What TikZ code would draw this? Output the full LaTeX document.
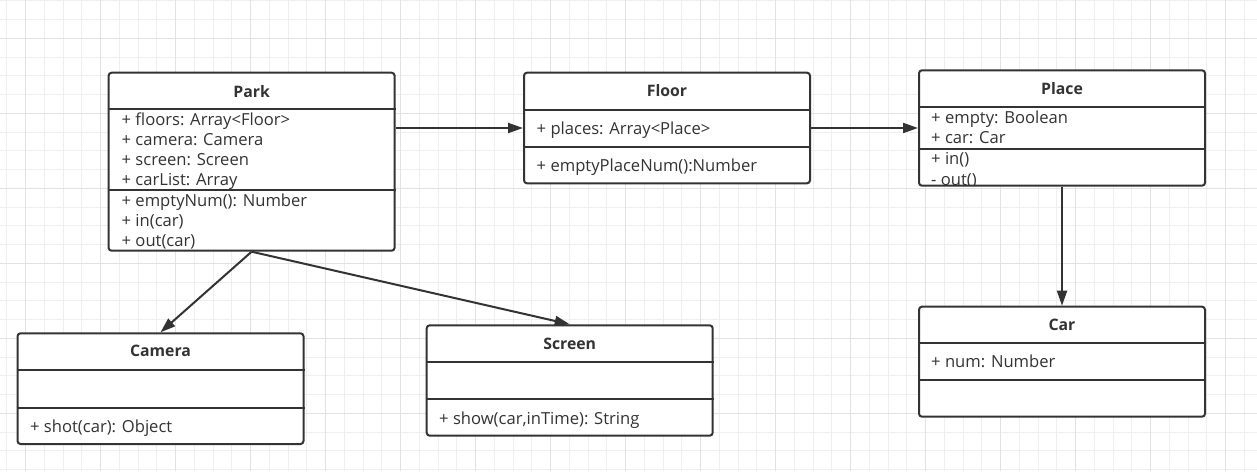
\documentclass[tikz,border=0pt]{standalone}
\usepackage{fontspec}
\setmainfont{Open Sans}
\usetikzlibrary{arrows.meta}
\definecolor{ink}{HTML}{333333}
\definecolor{gridminor}{HTML}{EFEFEF}
\definecolor{gridmajor}{HTML}{E2E2E2}
\tikzset{
  cls/.style={draw=ink, line width=2pt, rounded corners=3pt, fill=white, inner sep=0pt, minimum width=286pt},
  div/.style={draw=ink, line width=2pt},
  member/.style={anchor=base west, inner sep=0pt, text=ink, font=\fontsize{16.6}{18}\selectfont},
  title/.style={anchor=base, inner sep=0pt, text=ink, font=\fontsize{15.8}{18}\selectfont\bfseries},
  link/.style={draw=ink, line width=2pt, -{Triangle[length=15pt,width=10pt]}},
  minorline/.style={draw=gridminor, line width=1pt},
  majorline/.style={draw=gridmajor, line width=1pt}
}
\begin{document}
\begin{tikzpicture}[x=1pt,y=-1pt]
\useasboundingbox (0,0) rectangle (1257,471);
\fill[white] (0,0) rectangle (1257,471);
% grid
\foreach \i in {0,...,66} \draw[minorline] ({6.95+18.75*\i},0) -- ({6.95+18.75*\i},471);
\foreach \i in {0,...,25} \draw[minorline] (0,{0.8+18.75*\i}) -- (1257,{0.8+18.75*\i});
\foreach \i in {0,...,16} \draw[majorline] ({25.7+75*\i},0) -- ({25.7+75*\i},471);
\foreach \i in {0,...,5} \draw[majorline] (0,{38.3+75*\i}) -- (1257,{38.3+75*\i});

% boxes
\node[cls, minimum height=178pt] (park) at (251.6,161.7) {};
\node[cls, minimum height=110.6pt] (floor) at (667,128) {};
\node[cls, minimum height=115.4pt] (place) at (1062,128) {};
\node[cls, minimum height=110.7pt] (camera) at (160.5,388.65) {};
\node[cls, minimum height=110.4pt] (screen) at (569.7,380.5) {};
\node[cls, minimum height=110pt] (car) at (1062,361.7) {};

% Park
\node[title] (park-t) at (251.6,97.3) {Park};
\node[member] (park-a1) at (121.5,125.3) {+ floors: Array<Floor>};
\node[member] (park-a2) at (121.5,145.4) {+ camera: Camera};
\node[member] (park-a3) at (121.5,165.5) {+ screen: Screen};
\node[member] (park-a4) at (121.5,185.6) {+ carList: Array};
\node[member] (park-m1) at (121.5,206.3) {+ emptyNum(): Number};
\node[member] (park-m2) at (121.5,226.5) {+ in(car)};
\node[member] (park-m3) at (121.5,246.7) {+ out(car)};
\draw[div] (park.west |- 0,109) -- (park.east |- 0,109);
\draw[div] (park.west |- 0,190) -- (park.east |- 0,190);

% Floor
\node[title] (floor-t) at (667,96.7) {Floor};
\node[member] (floor-a1) at (536.5,134) {+ places: Array<Place>};
\node[member] (floor-m1) at (536.5,171.7) {+ emptyPlaceNum():Number};
\draw[div] (floor.west |- 0,110) -- (floor.east |- 0,110);
\draw[div] (floor.west |- 0,147.3) -- (floor.east |- 0,147.3);

% Place
\node[title] (place-t) at (1062,94) {Place};
\node[member] (place-a1) at (931,123.3) {+ empty: Boolean};
\node[member] (place-a2) at (931,143.3) {+ car: Car};
\node[member] (place-m1) at (931,164.3) {+ in()};
\begin{scope}
\clip (918,60) rectangle (1206,185);
\node[member] (place-m2) at (931,185) {- out()};
\end{scope}
\draw[div] (place.west |- 0,106.7) -- (place.east |- 0,106.7);
\draw[div] (place.west |- 0,149) -- (place.east |- 0,149);

% Camera
\node[title] (camera-t) at (160.5,356.7) {Camera};
\node[member] (camera-m1) at (30,432.3) {+ shot(car): Object};
\draw[div] (camera.west |- 0,370) -- (camera.east |- 0,370);
\draw[div] (camera.west |- 0,408.3) -- (camera.east |- 0,408.3);

% Screen
\node[title] (screen-t) at (569.7,349) {Screen};
\node[member] (screen-m1) at (439,424.3) {+ show(car,inTime): String};
\draw[div] (screen.west |- 0,361.7) -- (screen.east |- 0,361.7);
\draw[div] (screen.west |- 0,399.3) -- (screen.east |- 0,399.3);

% Car
\node[title] (car-t) at (1062,330) {Car};
\node[member] (car-a1) at (931,367.3) {+ num: Number};
\draw[div] (car.west |- 0,342.7) -- (car.east |- 0,342.7);
\draw[div] (car.west |- 0,380) -- (car.east |- 0,380);

% connectors
\draw[link] (park.east |- floor.west) -- (floor.west);
\draw[link] (floor.east) -- (place.west);
\draw[link] (place.south) -- (car.north);
\draw[link] (park.south) -- (camera.north);
\draw[link] (park.south) -- (screen.north);
\end{tikzpicture}
\end{document}
